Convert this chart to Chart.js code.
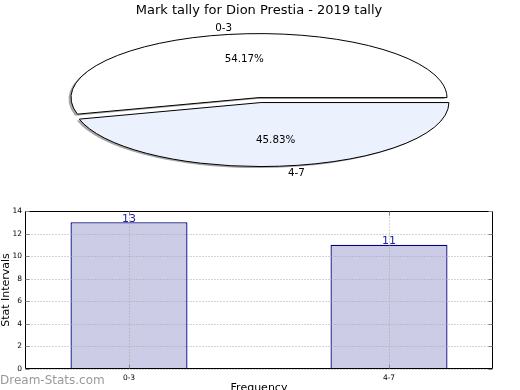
<!DOCTYPE html>
<html>
<head>
<meta charset="utf-8">
<script src="https://cdn.jsdelivr.net/npm/chart.js@4.4.0/dist/chart.umd.min.js"></script>
<style>
  html, body { margin: 0; padding: 0; background: #fff; overflow: hidden; }
  #wrap { position: relative; width: 520px; height: 390px; }
  #pie { position: absolute; left: 0; top: 0; }
  #bar { position: absolute; left: 0; top: 200px; }
  #mark { position: absolute; left: 0; top: 374px; font: 12px "DejaVu Sans", sans-serif; line-height: 12px; color: #9a9a9a; }
</style>
</head>
<body>
<div id="wrap">
  <canvas id="pie" width="520" height="195"></canvas>
  <canvas id="bar" width="520" height="200"></canvas>
  <div id="mark">Dream-Stats.com</div>
</div>
<script>
const chartTitle = 'Mark tally for Dion Prestia - 2019 tally';
const categories = ['0-3', '4-7'];
const tally = [13, 11];
const yTicks = [0, 2, 4, 6, 8, 10, 12, 14];
const xTitle = 'Frequency';
const yTitle = 'Stat Intervals';

Chart.defaults.font.family = '"DejaVu Sans", sans-serif';
Chart.defaults.color = '#000';

// pie is drawn as a circle of radius PIE_R, then stretched sideways into an ellipse
const PIE_R = 64;
const SX = 188 / PIE_R;
const explodePx = [0, 5];
const total = tally.reduce((a, b) => a + b, 0);

function wedgePath(ctx, arc, i, shx, shy) {
  const mid = (arc.startAngle + arc.endAngle) / 2;
  const ex = Math.cos(mid) * explodePx[i];
  const ey = Math.sin(mid) * explodePx[i];
  ctx.save();
  ctx.translate(arc.x + shx, shy);
  ctx.scale(SX, 1);
  ctx.translate(-arc.x + ex, ey);
  ctx.beginPath();
  ctx.moveTo(arc.x, arc.y);
  ctx.arc(arc.x, arc.y, arc.outerRadius, arc.startAngle, arc.endAngle);
  ctx.closePath();
  ctx.restore();
}

const ellipsePie = {
  id: 'ellipsePie',
  beforeDatasetsDraw(chart) {
    const ctx = chart.ctx;
    const arcs = chart.getDatasetMeta(0).data;
    // shadow
    arcs.forEach((arc, i) => {
      wedgePath(ctx, arc, i, -2.5, 1.5);
      ctx.fillStyle = 'rgba(77,77,77,0.5)';
      ctx.fill();
    });
    // exploded slices
    arcs.forEach((arc, i) => {
      if (arc.$patched) return;
      const base = arc.draw;
      arc.draw = function (c, area) {
        const mid = (this.startAngle + this.endAngle) / 2;
        c.save();
        c.translate(Math.cos(mid) * explodePx[i], Math.sin(mid) * explodePx[i]);
        base.call(this, c, area);
        c.restore();
      };
      arc.$patched = true;
    });
    const cx = arcs[0].x;
    ctx.save();
    ctx.translate(cx, 0);
    ctx.scale(SX, 1);
    ctx.translate(-cx, 0);
  },
  afterDatasetsDraw(chart) {
    const ctx = chart.ctx;
    ctx.restore();
    const arcs = chart.getDatasetMeta(0).data;
    ctx.lineWidth = 1;
    ctx.strokeStyle = '#000';
    arcs.forEach((arc, i) => {
      wedgePath(ctx, arc, i, 0, 0);
      ctx.stroke();
    });
    ctx.fillStyle = '#000';
    ctx.font = '10.3px "DejaVu Sans", sans-serif';
    ctx.textBaseline = 'middle';
    arcs.forEach((arc, i) => {
      const mid = (arc.startAngle + arc.endAngle) / 2;
      const c = Math.cos(mid), s = Math.sin(mid);
      const ox = arc.x + c * explodePx[i] * SX;
      const oy = arc.y + s * explodePx[i];
      const r = arc.outerRadius;
      ctx.textAlign = c < 0 ? 'right' : 'left';
      ctx.fillText(categories[i], ox + c * 1.1 * r * SX, oy + s * 1.1 * r + 1);
      ctx.textAlign = 'center';
      ctx.fillText((tally[i] / total * 100).toFixed(2) + '%', ox + c * 0.6 * r * SX, oy + s * 0.6 * r);
    });
  }
};

new Chart(document.getElementById('pie'), {
  type: 'pie',
  data: {
    labels: categories,
    datasets: [{
      data: tally,
      backgroundColor: ['#ffffff', '#ebf1fd'],
      borderWidth: 0,
      radius: PIE_R
    }]
  },
  options: {
    responsive: false,
    animation: false,
    rotation: 90 - 360 * tally[0] / total,
    layout: { padding: { left: 0, right: 2, top: 0, bottom: 18.4 } },
    plugins: {
      legend: { display: false },
      tooltip: { enabled: false },
      title: {
        display: true,
        text: chartTitle,
        font: { size: 13, weight: 'normal' },
        color: '#000',
        padding: { top: 3, bottom: 0 }
      }
    }
  },
  plugins: [ellipsePie]
});

// dotted grid over the bars, bar value labels, full box with inward ticks
const frame = {
  id: 'frame',
  afterDatasetsDraw(chart) {
    const { ctx, chartArea: a, scales } = chart;
    const l = Math.round(a.left) + 0.5, r = Math.round(a.right) - 0.5;
    const t = Math.round(a.top) + 0.5, b = Math.round(a.bottom) - 0.5;
    ctx.save();
    ctx.strokeStyle = '#a8a8a8';
    ctx.lineWidth = 1;
    ctx.setLineDash([1, 2]);
    ctx.beginPath();
    scales.y.ticks.forEach(tk => {
      const y = Math.round(scales.y.getPixelForValue(tk.value)) + 0.5;
      ctx.moveTo(l, y); ctx.lineTo(r, y);
    });
    scales.x.ticks.forEach(tk => {
      const x = Math.round(scales.x.getPixelForValue(tk.value)) + 0.5;
      ctx.moveTo(x, t); ctx.lineTo(x, b);
    });
    ctx.stroke();
    ctx.setLineDash([]);

    ctx.fillStyle = '#1f1fa0';
    ctx.font = '11px "DejaVu Sans", sans-serif';
    ctx.textAlign = 'center';
    ctx.textBaseline = 'bottom';
    chart.getDatasetMeta(0).data.forEach((bar, i) => {
      ctx.fillText(String(tally[i]), bar.x, bar.y + 2);
    });
    ctx.restore();
  },
  afterDraw(chart) {
    const { ctx, chartArea: a, scales } = chart;
    const l = Math.round(a.left) + 0.5, r = Math.round(a.right) - 0.5;
    const t = Math.round(a.top) + 0.5, b = Math.round(a.bottom) - 0.5;
    ctx.save();
    ctx.strokeStyle = '#000';
    ctx.lineWidth = 1;
    ctx.beginPath();
    ctx.moveTo(l, b); ctx.lineTo(l, t); ctx.lineTo(r, t); ctx.lineTo(r, b); ctx.lineTo(l, b);
    ctx.stroke();
    ctx.strokeStyle = '#888';
    ctx.beginPath();
    scales.y.ticks.forEach(tk => {
      const y = Math.round(scales.y.getPixelForValue(tk.value)) + 0.5;
      ctx.moveTo(l, y); ctx.lineTo(l + 4, y);
      ctx.moveTo(r, y); ctx.lineTo(r - 4, y);
    });
    scales.x.ticks.forEach(tk => {
      const x = Math.round(scales.x.getPixelForValue(tk.value)) + 0.5;
      ctx.moveTo(x, t); ctx.lineTo(x, t + 4);
      ctx.moveTo(x, b); ctx.lineTo(x, b - 4);
    });
    ctx.stroke();
    ctx.restore();
  }
};

new Chart(document.getElementById('bar'), {
  type: 'bar',
  data: {
    datasets: [{
      data: tally.map((v, i) => ({ x: i, y: v })),
      backgroundColor: '#ccccE6',
      borderColor: '#000080',
      borderWidth: 1.3,
      barPercentage: 0.45,
      categoryPercentage: 1
    }]
  },
  options: {
    responsive: false,
    animation: false,
    layout: { padding: { top: 11, right: 27, left: 0, bottom: 0 } },
    plugins: { legend: { display: false }, tooltip: { enabled: false } },
    scales: {
      x: {
        type: 'linear',
        min: -0.4,
        max: categories.length - 0.6,
        offset: false,
        ticks: {
          stepSize: 1,
          includeBounds: false,
          autoSkip: false,
          maxRotation: 0,
          padding: 5,
          font: { size: 7.5 },
          callback: v => categories[v] ?? ''
        },
        grid: { display: false, drawTicks: false },
        border: { display: false },
        title: { display: true, text: xTitle, font: { size: 11 }, padding: { top: 0, bottom: 5 } },
        afterFit: s => { s.height = 31; }
      },
      y: {
        min: yTicks[0],
        max: yTicks[yTicks.length - 1],
        ticks: { stepSize: yTicks[1] - yTicks[0], padding: 3, font: { size: 7.5 } },
        grid: { display: false, drawTicks: false },
        border: { display: false },
        title: { display: true, text: yTitle, font: { size: 11 }, padding: { top: 0, bottom: 0 } },
        afterFit: s => { s.width = 25; }
      }
    }
  },
  plugins: [frame]
});
</script>
</body>
</html>
